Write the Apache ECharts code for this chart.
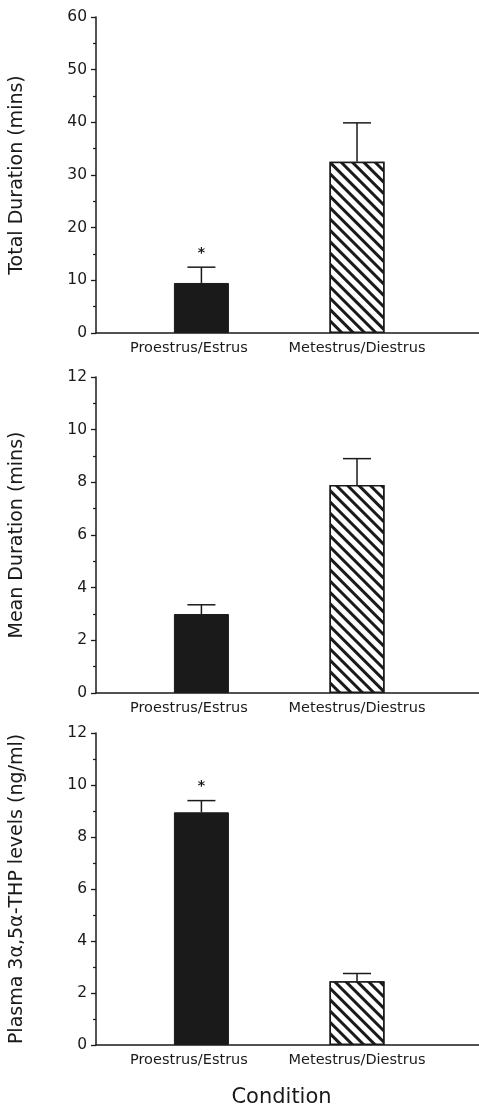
<!DOCTYPE html>
<html>
<head>
<meta charset="utf-8">
<script src="https://cdn.jsdelivr.net/npm/echarts@6/dist/echarts.min.js"></script>
<style>
html,body{margin:0;padding:0;background:#fff;}
#chart{width:479px;height:1109px;}
</style>
</head>
<body>
<div id="chart"></div>
<script>
// ---- data ----
var categories = ['Proestrus/Estrus', 'Metestrus/Diestrus'];
var catPos = [1, 2];

var totalDuration = [9.5, 32.5];
var totalErr = [3.0, 7.4];
var totalSig = [1, 0];

var meanDuration = [3.0, 7.9];
var meanErr = [0.35, 1.0];
var meanSig = [0, 0];

var plasmaLevels = [8.95, 2.45];
var plasmaErr = [0.45, 0.3];
var plasmaSig = [1, 0];

var panelTitles = ['Total Duration (mins)', 'Mean Duration (mins)', 'Plasma 3\u03b1,5\u03b1-THP levels (ng/ml)'];
var yMax = [60, 12, 12];
var yStep = [10, 2, 2];
var xTitle = 'Condition';

// ---- styling ----
var FONT = 'DejaVu Sans';
var INK = '#1a1a1a';
var grids = [
  {left: 92, right: 0, top: 17, height: 316},
  {left: 92, right: 0, top: 377, height: 316},
  {left: 92, right: 0, top: 733, height: 318}
];
var hatch = {
  symbol: 'rect', symbolSize: 1,
  dashArrayX: [1, 0], dashArrayY: [3, 5],
  rotation: Math.PI / 4,
  color: INK, backgroundColor: '#fff'
};

var values = [totalDuration, meanDuration, plasmaLevels];
var errs = [totalErr, meanErr, plasmaErr];
var sigs = [totalSig, meanSig, plasmaSig];

var xAxes = [], yAxes = [], series = [];
for (var p = 0; p < 3; p++) {
  xAxes.push({
    type: 'value', gridIndex: p, min: 0.3225, max: 2.784,
    axisLine: {show: true, onZero: false, lineStyle: {color: INK, width: 1.5}},
    axisTick: {show: false},
    splitLine: {show: false},
    axisLabel: {
      show: true, customValues: catPos, margin: 8,
      fontFamily: FONT, fontSize: 14.5, color: INK,
      formatter: function (v) {
        var i = catPos.indexOf(v);
        return i === 0 ? '{a|' + categories[i] + '}' : '{b|' + categories[i] + '}';
      },
      rich: {
        a: {fontFamily: FONT, fontSize: 14.5, color: INK, padding: [0, 25, 0, 0]},
        b: {fontFamily: FONT, fontSize: 14.5, color: INK}
      }
    },
    name: p === 2 ? xTitle : '',
    nameLocation: 'middle', nameGap: 42,
    nameTextStyle: {fontFamily: FONT, fontSize: 21, color: INK, padding: [0, 12, 0, 0]}
  });
  yAxes.push({
    type: 'value', gridIndex: p, min: 0, max: yMax[p], interval: yStep[p],
    axisLine: {show: true, lineStyle: {color: INK, width: 1.5}},
    axisTick: {show: true, length: 5, lineStyle: {color: INK, width: 1.3}},
    minorTick: {show: true, splitNumber: 2, length: 3, lineStyle: {color: INK, width: 1.2}},
    splitLine: {show: false},
    axisLabel: {margin: 9, fontFamily: FONT, fontSize: 15.5, color: INK},
    name: panelTitles[p], nameLocation: 'middle', nameGap: 69, nameRotate: 90,
    nameTextStyle: {fontFamily: FONT, fontSize: 19, color: INK}
  });
  var barData = [];
  var errData = [];
  for (var i = 0; i < categories.length; i++) {
    barData.push({
      value: [catPos[i], values[p][i]],
      itemStyle: i === 0
        ? {color: INK, borderColor: INK, borderWidth: 1}
        : {color: '#fff', borderColor: INK, borderWidth: 1.5, decal: hatch}
    });
    errData.push([catPos[i], values[p][i], errs[p][i], sigs[p][i]]);
  }
  series.push({
    type: 'bar', xAxisIndex: p, yAxisIndex: p, barWidth: 55,
    data: barData, silent: true, animation: false
  });
  series.push({
    type: 'custom', xAxisIndex: p, yAxisIndex: p, z: 5, animation: false, silent: true,
    data: errData,
    renderItem: function (params, api) {
      var x = api.value(0), v = api.value(1), e = api.value(2), s = api.value(3);
      var base = api.coord([x, v]);
      var top = api.coord([x, v + e]);
      var children = [
        {type: 'line', shape: {x1: base[0], y1: base[1], x2: top[0], y2: top[1]},
         style: {stroke: INK, lineWidth: 1.5}},
        {type: 'line', shape: {x1: top[0] - 14, y1: top[1], x2: top[0] + 14, y2: top[1]},
         style: {stroke: INK, lineWidth: 1.5}}
      ];
      if (s) {
        children.push({type: 'text', style: {
          text: '*', x: top[0], y: top[1] - 14, align: 'center', verticalAlign: 'middle',
          font: 'bold 14px "DejaVu Sans"', fill: INK
        }});
      }
      return {type: 'group', children: children};
    }
  });
}

var chart = echarts.init(document.getElementById('chart'), null, {renderer: 'canvas'});
chart.setOption({
  backgroundColor: '#fff',
  animation: false,
  grid: grids,
  xAxis: xAxes,
  yAxis: yAxes,
  series: series
});
</script>
</body>
</html>
